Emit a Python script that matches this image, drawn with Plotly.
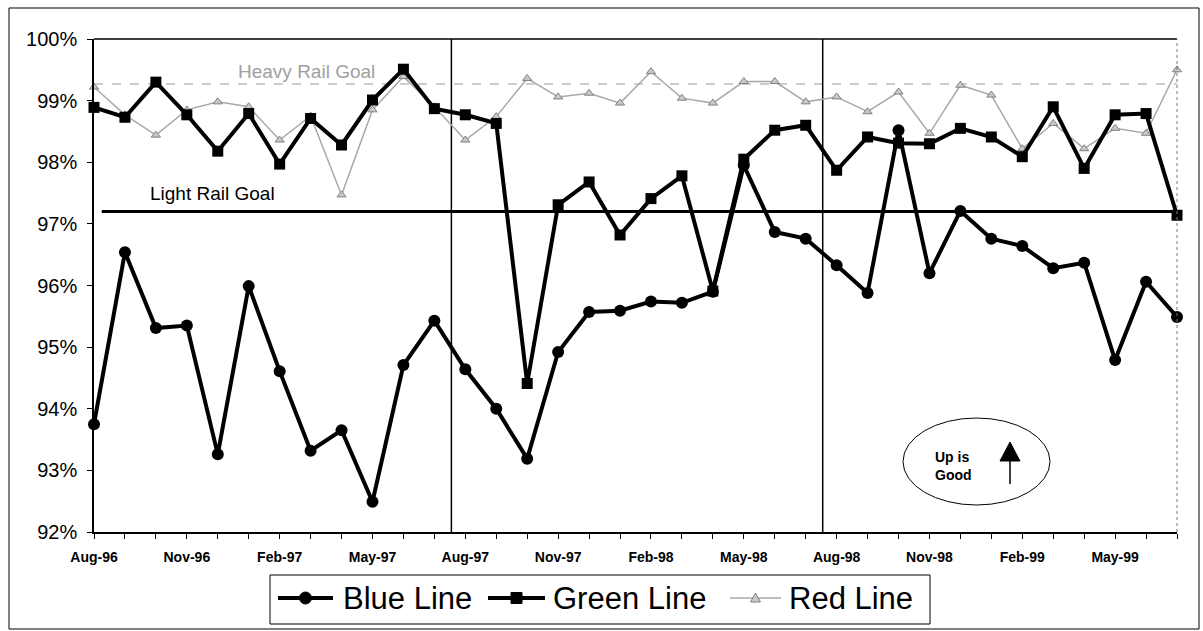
import plotly.graph_objects as go

months = ["Aug-96","Sep-96","Oct-96","Nov-96","Dec-96","Jan-97","Feb-97","Mar-97","Apr-97","May-97","Jun-97","Jul-97",
          "Aug-97","Sep-97","Oct-97","Nov-97","Dec-97","Jan-98","Feb-98","Mar-98","Apr-98","May-98","Jun-98","Jul-98",
          "Aug-98","Sep-98","Oct-98","Nov-98","Dec-98","Jan-99","Feb-99","Mar-99","Apr-99","May-99","Jun-99","Jul-99"]

blue_line = [93.75, 96.54, 95.31, 95.35, 93.26, 95.99, 94.61, 93.32, 93.65, 92.49, 94.71, 95.43,
             94.64, 94.00, 93.19, 94.92, 95.57, 95.59, 95.74, 95.72, 95.90, 97.95, 96.87, 96.76,
             96.33, 95.88, 98.52, 96.20, 97.21, 96.76, 96.64, 96.28, 96.37, 94.79, 96.06, 95.49]

green_line = [98.89, 98.73, 99.30, 98.77, 98.18, 98.79, 97.97, 98.71, 98.28, 99.01, 99.51, 98.87,
              98.77, 98.63, 94.41, 97.31, 97.68, 96.82, 97.41, 97.78, 95.91, 98.05, 98.52, 98.60,
              97.87, 98.41, 98.31, 98.30, 98.55, 98.41, 98.09, 98.90, 97.90, 98.77, 98.79, 97.14]

red_line = [99.22, 98.77, 98.44, 98.85, 98.98, 98.90, 98.36, 98.75, 97.47, 98.85, 99.39, 98.90,
            98.36, 98.74, 99.36, 99.06, 99.12, 98.96, 99.47, 99.04, 98.96, 99.31, 99.31, 98.98,
            99.06, 98.82, 99.14, 98.47, 99.25, 99.09, 98.22, 98.63, 98.22, 98.55, 98.47, 99.50]

series_names = ["Blue Line", "Green Line", "Red Line"]
heavy_rail_goal = 99.27
light_rail_goal = 97.2
fiscal_breaks = [11.55, 23.55]
y_ticks = [92, 93, 94, 95, 96, 97, 98, 99, 100]
y_ticktext = [f"{v}%" for v in y_ticks]

x = list(range(len(months)))
tick_text = [m if i % 3 == 0 else "" for i, m in enumerate(months)]

W, H = 1203, 631
L, R, T, B = 94, 26, 39, 99
PW, PH = W - L - R, H - T - B

def px(xp):
    return (xp - L) / PW

def py(yp):
    return (H - B - yp) / PH

FONT = "Liberation Sans, Arial, sans-serif"
RED_LINE_C = "#a8a8a8"
RED_FILL_C = "#c8c8c8"
RED_EDGE_C = "#808080"

styles = {
    "Blue Line": dict(line=dict(color="black", width=4),
                      marker=dict(symbol="circle", size=12, color="black")),
    "Green Line": dict(line=dict(color="black", width=4),
                       marker=dict(symbol="square", size=11, color="black")),
    "Red Line": dict(line=dict(color=RED_LINE_C, width=1.5),
                     marker=dict(symbol="triangle-up", size=8, color=RED_FILL_C,
                                 line=dict(color=RED_EDGE_C, width=1))),
}

fig = go.Figure()
for name, vals in [("Red Line", red_line), ("Green Line", green_line), ("Blue Line", blue_line)]:
    st = styles[name]
    fig.add_trace(go.Scatter(x=x, y=vals, name=name, mode="lines+markers",
                             line=st["line"], marker=st["marker"], cliponaxis=False,
                             showlegend=False))

shapes = []
shapes.append(dict(type="line", xref="x", yref="y", x0=0, x1=35, y0=heavy_rail_goal, y1=heavy_rail_goal,
                   line=dict(color="#9a9a9a", width=1, dash="dash"), layer="below"))
shapes.append(dict(type="line", xref="x", yref="y", x0=0.25, x1=35, y0=light_rail_goal, y1=light_rail_goal,
                   line=dict(color="black", width=3), layer="below"))
for fb in fiscal_breaks:
    shapes.append(dict(type="line", xref="x", yref="y", x0=fb, x1=fb, y0=92, y1=100,
                       line=dict(color="black", width=1.5), layer="below"))
shapes.append(dict(type="line", xref="paper", yref="paper", x0=0, x1=1, y0=1, y1=1,
                   line=dict(color="black", width=1.5)))
shapes.append(dict(type="line", xref="paper", yref="paper", x0=1, x1=1, y0=0, y1=1,
                   line=dict(color="#777", width=1, dash="dot")))
shapes.append(dict(type="rect", xref="paper", yref="paper", x0=px(9), x1=px(1199), y0=py(8), y1=py(629),
                   line=dict(color="black", width=1)))

# Manual legend (box, samples, labels)
legend_items = [  # (sample x0, sample x1, text x)
    (278, 333, 341),
    (488, 545, 551),
    (730, 781, 787),
]
LEG_Y = 598
shapes.append(dict(type="rect", xref="paper", yref="paper", x0=px(270), x1=px(930), y0=py(624), y1=py(575),
                   line=dict(color="black", width=1)))
for name, (sx0, sx1, tx) in zip(series_names, legend_items):
    st = styles[name]
    cx = (sx0 + sx1) / 2
    shapes.append(dict(type="line", xref="paper", yref="paper", x0=px(sx0), x1=px(sx1),
                       y0=py(LEG_Y), y1=py(LEG_Y), line=dict(color=st["line"]["color"], width=st["line"]["width"])))
    if name == "Blue Line":
        shapes.append(dict(type="circle", xref="paper", yref="paper", x0=px(cx - 6), x1=px(cx + 6),
                           y0=py(LEG_Y + 6), y1=py(LEG_Y - 6), fillcolor="black", line=dict(color="black", width=1)))
    elif name == "Green Line":
        shapes.append(dict(type="rect", xref="paper", yref="paper", x0=px(cx - 5.5), x1=px(cx + 5.5),
                           y0=py(LEG_Y + 5.5), y1=py(LEG_Y - 5.5), fillcolor="black", line=dict(color="black", width=1)))
    else:
        shapes.append(dict(type="path", xref="paper", yref="paper",
                           path=f"M {px(cx)},{py(LEG_Y - 5)} L {px(cx - 5)},{py(LEG_Y + 4)} L {px(cx + 5)},{py(LEG_Y + 4)} Z",
                           fillcolor=RED_FILL_C, line=dict(color=RED_EDGE_C, width=1)))

# ellipse with arrow
shapes.append(dict(type="circle", xref="paper", yref="paper", x0=px(903), x1=px(1050), y0=py(505), y1=py(418),
                   line=dict(color="black", width=1)))
shapes.append(dict(type="line", xref="paper", yref="paper", x0=px(1010), x1=px(1010), y0=py(484), y1=py(458),
                   line=dict(color="black", width=1.5)))
shapes.append(dict(type="path", xref="paper", yref="paper",
                   path=f"M {px(1010)},{py(442)} L {px(1000)},{py(461)} L {px(1020)},{py(461)} Z",
                   fillcolor="black", line=dict(color="black", width=1)))

annotations = [
    dict(x=px(306), y=py(71), xref="paper", yref="paper", xanchor="center", yanchor="middle",
         text="Heavy Rail Goal", showarrow=False,
         font=dict(family=FONT, size=19, color="#a0a0a0")),
    dict(x=px(212), y=py(193), xref="paper", yref="paper", xanchor="center", yanchor="middle",
         text="Light Rail Goal", showarrow=False,
         font=dict(family=FONT, size=19, color="black")),
    dict(x=px(933), y=py(466), xref="paper", yref="paper", xanchor="left", yanchor="middle",
         text="<b>Up is<br>Good</b>", showarrow=False, align="left",
         font=dict(family=FONT, size=14, color="black")),
]
for name, (sx0, sx1, tx) in zip(series_names, legend_items):
    annotations.append(dict(x=px(tx), y=py(LEG_Y), xref="paper", yref="paper", xanchor="left",
                            yanchor="middle", text=name, showarrow=False,
                            font=dict(family=FONT, size=31, color="black")))

fig.update_layout(
    width=W, height=H,
    margin=dict(l=L, r=R, t=T, b=B, pad=0),
    paper_bgcolor="white", plot_bgcolor="white",
    font=dict(family=FONT, color="black"),
    shapes=shapes, annotations=annotations,
    showlegend=False,
    xaxis=dict(range=[0, 35], tickmode="array", tickvals=x, ticktext=tick_text,
               showgrid=False, zeroline=False, showline=True, linecolor="black", linewidth=1.5,
               ticks="outside", ticklen=5, tickcolor="black", tickangle=0, ticklabelstandoff=6,
               tickfont=dict(family=FONT, size=14, color="black", weight="bold")),
    yaxis=dict(range=[92, 100], tickmode="array", tickvals=y_ticks, ticktext=y_ticktext,
               showgrid=False, zeroline=False, showline=True, linecolor="black", linewidth=1.5,
               ticks="outside", ticklen=5, tickcolor="black", ticklabelstandoff=6,
               tickfont=dict(family=FONT, size=20, color="black")),
)

fig.write_html("out.html")
